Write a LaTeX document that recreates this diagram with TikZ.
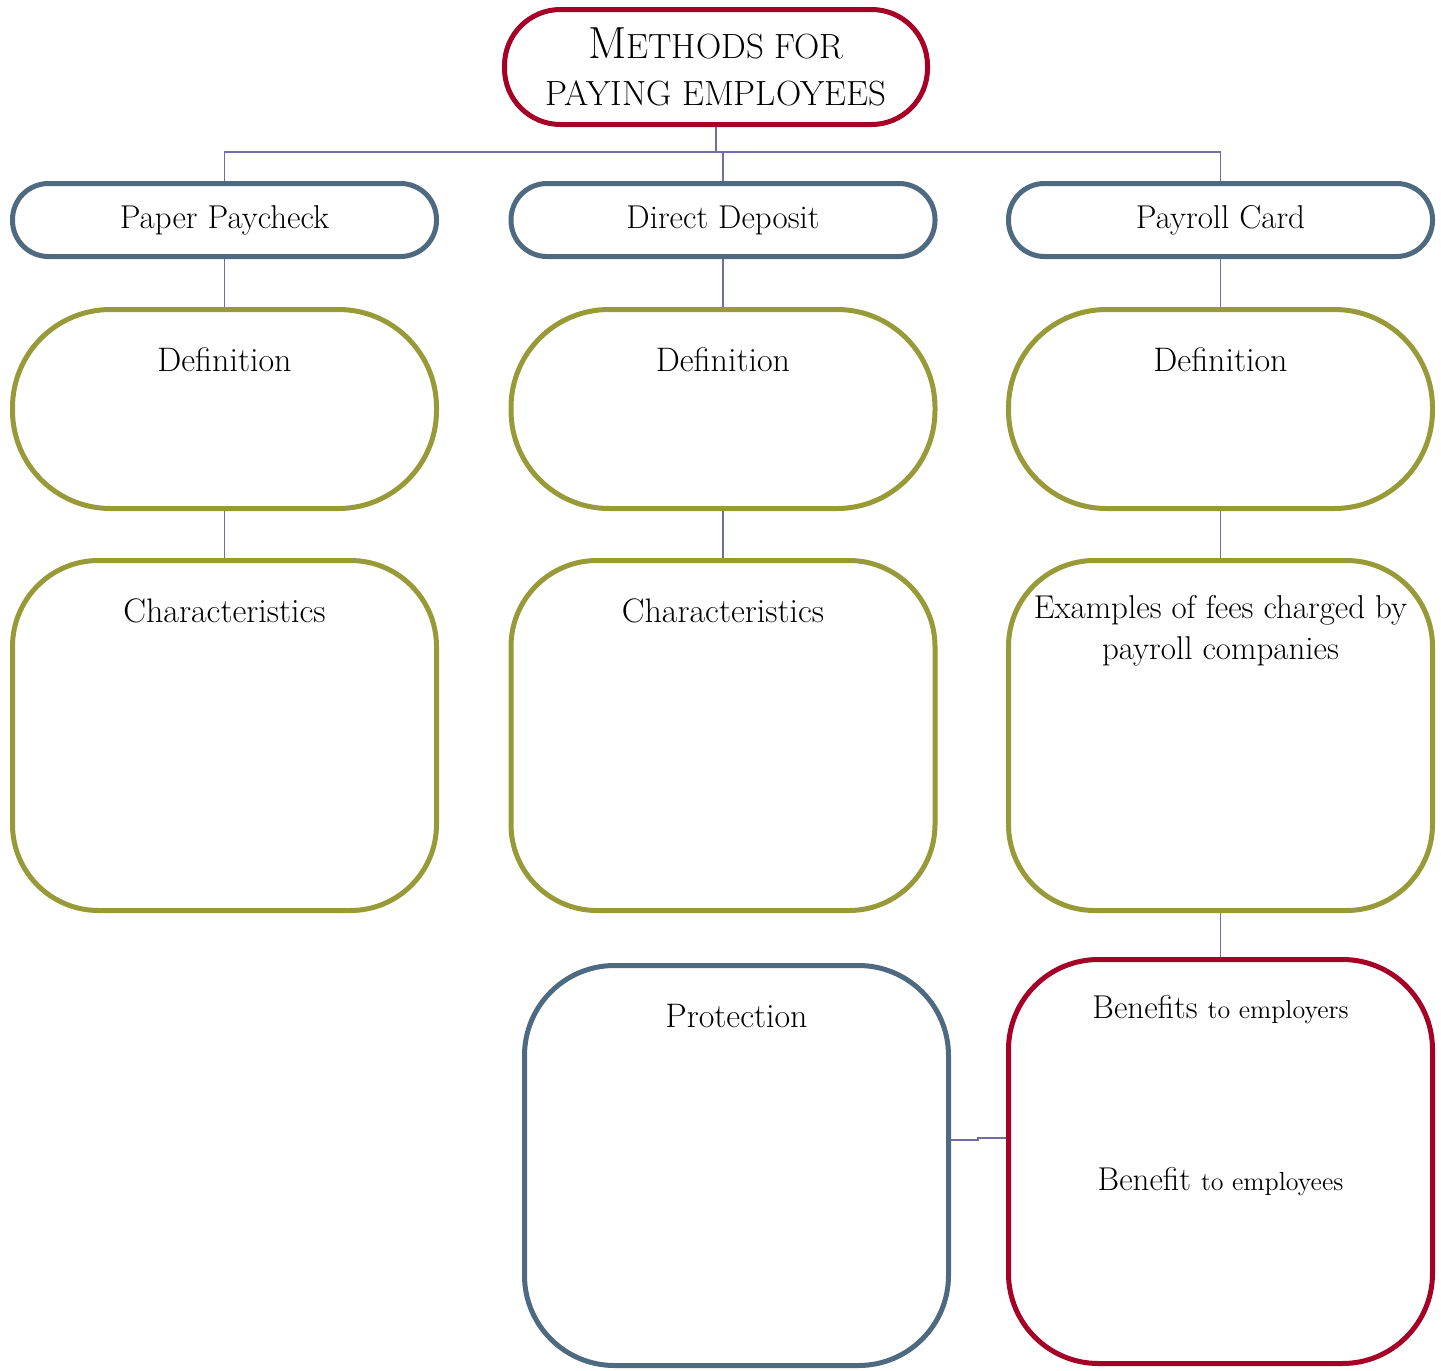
\documentclass[tikz,border=0pt]{standalone}
\usepackage{tikz}
\usetikzlibrary{positioning}
\definecolor{titlered}{RGB}{166,0,38}
\definecolor{slateblue}{RGB}{78,106,128}
\definecolor{olivebox}{RGB}{152,154,56}
\definecolor{linkline}{RGB}{112,108,168}
\tikzset{
  box/.style={draw, line width=2.5pt, fill=white, minimum width=212pt, inner sep=0pt, align=center, font=\fontsize{16.5}{20}\selectfont},
  headbox/.style={box, draw=slateblue, minimum height=36.5pt, rounded corners=18pt},
  defbox/.style={box, draw=olivebox, minimum height=99.5pt, rounded corners=49pt},
  charbox/.style={box, draw=olivebox, minimum height=175pt, rounded corners=43pt},
  link/.style={draw=linkline, line width=0.8pt},
  toptext/.style={label={[anchor=center, yshift=-26.5pt, font=\fontsize{17}{20}\selectfont, align=center]north:#1}}
}
\newcommand{\smallpart}[1]{{\fontsize{13}{15}\selectfont #1}}
\newcommand{\titlecaps}[2]{{\fontsize{22.5}{22.5}\selectfont #1}{\fontsize{17.5}{22.5}\selectfont #2}}

\begin{document}
\begin{tikzpicture}[x=0.5pt, y=-0.5pt]
	\useasboundingbox (0,0) rectangle (1441,1371);

	% title
	\node[box, draw=titlered, minimum width=211.5pt, minimum height=57.5pt, rounded corners=28pt, font=\fontsize{17.5}{22.5}\selectfont] at (716,67) (title) {\titlecaps{M}{ETHODS FOR}\\[1pt]PAYING EMPLOYEES};

	% the three methods
	\node[headbox] at (224.5,220) (pp) {Paper Paycheck};
	\node[headbox] at (723,220) (dd) {Direct Deposit};
	\node[headbox] at (1220.5,220) (pc) {Payroll Card};

	\node[defbox, toptext=Definition, below=24pt of pp] (ppdef) {};
	\node[defbox, toptext=Definition, below=24pt of dd] (dddef) {};
	\node[defbox, toptext=Definition, below=24pt of pc] (pcdef) {};

	\node[charbox, toptext=Characteristics, below=23.5pt of ppdef] (ppchar) {};
	\node[charbox, toptext=Characteristics, below=23.5pt of dddef] (ddchar) {};
	\node[charbox, label={[anchor=north, yshift=-15pt, font=\fontsize{16.5}{20.5}\selectfont, align=center]north:Examples of fees charged by\\payroll companies}, below=23.5pt of pcdef] (pcfees) {};

	% bottom row
	\node[box, draw=slateblue, minimum height=200pt, rounded corners=45pt, toptext=Protection] at (736.5,1165.5) (prot) {};
	\node[box, draw=titlered, minimum height=202pt, rounded corners=45pt, below=22pt of pcfees] (ben) {};
	\node[font=\fontsize{16.5}{20}\selectfont] at (1220.5,1010) (benfirm) {Benefits \smallpart{to employers}};
	\node[font=\fontsize{16.5}{20}\selectfont] at (1220.5,1182) (benstaff) {Benefit \smallpart{to employees}};

	% connectors
	\draw[link] (title.south) -- ++(0,25) -| (pp.north);
	\draw[link] (title.south) -- ++(0,25) -| (dd.north);
	\draw[link] (title.south) -- ++(0,25) -| (pc.north);
	\draw[link] (pp.south) -- (ppdef.north);
	\draw[link] (dd.south) -- (dddef.north);
	\draw[link] (pc.south) -- (pcdef.north);
	\draw[link] (ppdef.south) -- (ppchar.north);
	\draw[link] (dddef.south) -- (ddchar.north);
	\draw[link] (pcdef.south) -- (pcfees.north);
	\draw[link] (pcfees.south) -- (ben.north);
	\draw[link] ([yshift=12.75pt]prot.east) -- ++(27,0) |- ([yshift=11.75pt]ben.west);
\end{tikzpicture}
\end{document}
